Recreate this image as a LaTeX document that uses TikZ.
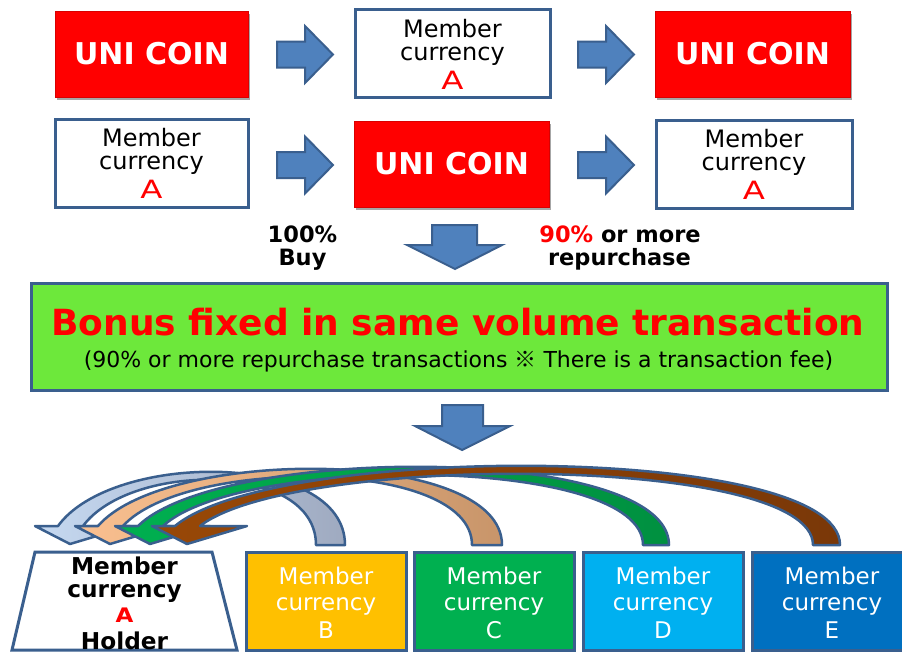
\documentclass[tikz,border=0pt]{standalone}
\usepackage{fontspec}
\setmainfont{DejaVu Sans}
\newfontfamily\cjkfont{Noto Sans CJK JP}
\usetikzlibrary{shadows}
\definecolor{ured}{HTML}{FF0000}
\definecolor{bdr}{HTML}{3A5F8E}
\definecolor{afill}{HTML}{4F81BD}
\definecolor{lgreen}{HTML}{6DE83B}
\definecolor{yB}{HTML}{FFC000}
\definecolor{gC}{HTML}{00B050}
\definecolor{bD}{HTML}{00B0F0}
\definecolor{bE}{HTML}{0070C0}
\definecolor{hB}{HTML}{C6D9F1}
\definecolor{tB}{HTML}{9FAAC0}
\definecolor{hC}{HTML}{FAC090}
\definecolor{tC}{HTML}{C8956A}
\definecolor{hD}{HTML}{00B050}
\definecolor{tD}{HTML}{009040}
\definecolor{hE}{HTML}{984807}
\definecolor{tE}{HTML}{7A3808}
\newcommand\fUni{\fontsize{30}{36}\selectfont\bfseries}
\newcommand\fMem{\fontsize{24}{28}\selectfont}
\newcommand\fMid{\fontsize{22.5}{26}\selectfont\bfseries}
\newcommand\fBonus{\fontsize{36}{40}\selectfont\bfseries}
\newcommand\fSub{\fontsize{22}{26}\selectfont}
\newcommand\fHold{\fontsize{23.2}{27}\selectfont\bfseries}
\newcommand\fBox{\fontsize{23}{27}\selectfont}
\newcommand\wideA{\scalebox{1.35}[1.05]{A}}
% curved arrow: #1 head left, #2 base inner x, #3 base outer x, #4 outer ctrl y, #5 inner ctrl y, #6 head colour, #7 base colour
\newcommand\crvarrow[7]{%
  \path[carr, left color=#6, right color=#7]
    (#3,545) .. controls (#3,#4) and ({#1+23+20+0.12*(#3-#1-23)},#4) .. ({#1+23},526)
    -- (#1,526) -- ({#1+35},544) -- ({#1+95},526) -- ({#1+48},526)
    .. controls ({#1+48+20+0.12*(#2-#1-48)},#5) and (#2,#5) .. (#2,545) -- cycle;}
\tikzset{
  uni/.style={fill=ured, draw=red!85!black, line width=0.6pt, inner sep=0pt, outer sep=0pt,
    text=white, font=\fUni,
    drop shadow={shadow xshift=2pt, shadow yshift=-3pt, opacity=0.35, fill=black}},
  memb/.style={fill=white, draw=bdr, line width=3pt, inner sep=0pt, outer sep=0pt},
  lbl/.style={anchor=base, inner sep=0pt, outer sep=0pt},
  blk/.style={fill=afill, draw=bdr, line width=2pt, line join=miter},
  carr/.style={draw=bdr, line width=2.5pt, line join=round},
  cbox/.style={draw=bdr, line width=3pt, inner sep=0pt, outer sep=0pt,
    minimum width=160pt, minimum height=98pt},
  rarr/.pic={\path[blk] (-28,-13) -- (0,-13) -- (0,-28.5) -- (28,0) -- (0,28.5) -- (0,13) -- (-28,13) -- cycle;}
}
\begin{document}
\begin{tikzpicture}[x=1pt,y=-1pt]
\useasboundingbox (0,0) rectangle (902,653);
\fill[white] (0,0) rectangle (902,653);

% ---- row 1
\node[uni, minimum width=193pt, minimum height=86pt] (u1) at (151.5,54) {UNI COIN};
\pic at (305,54.5) {rarr};
\node[memb, minimum width=195pt, minimum height=88pt] (m1) at (452.5,53.5) {};
\node[lbl, font=\fMem] (m1a) at (452.5,37) {Member};
\node[lbl, font=\fMem] (m1b) at (452.5,60) {currency};
\node[lbl, font=\fMem, text=ured] (m1c) at (452.5,89) {\wideA};
\pic at (606,54.5) {rarr};
\node[uni, minimum width=195pt, minimum height=86pt] (u2) at (752.5,54) {UNI COIN};

% ---- row 2
\node[memb, minimum width=193pt, minimum height=88pt] (m2) at (151.5,163.5) {};
\node[lbl, font=\fMem] (m2a) at (151.5,146) {Member};
\node[lbl, font=\fMem] (m2b) at (151.5,169) {currency};
\node[lbl, font=\fMem, text=ured] (m2c) at (151.5,198) {\wideA};
\pic at (305,165) {rarr};
\node[uni, minimum width=195pt, minimum height=86pt] (u3) at (451.5,164) {UNI COIN};
\pic at (606,165) {rarr};
\node[memb, minimum width=196pt, minimum height=88pt] (m3) at (754,164) {};
\node[lbl, font=\fMem] (m3a) at (754,147) {Member};
\node[lbl, font=\fMem] (m3b) at (754,170) {currency};
\node[lbl, font=\fMem, text=ured] (m3c) at (754,199) {\wideA};

% ---- middle
\node[lbl, font=\fMid] (buy1) at (302.5,242) {100\%};
\node[lbl, font=\fMid] (buy2) at (302.5,265) {Buy};
\node[lbl, font=\fMid] (rep1) at (620,242) {\textcolor{ured}{90\%} or more};
\node[lbl, font=\fMid] (rep2) at (619.5,265) {repurchase};
\path[blk] (432,225) -- (477,225) -- (477,245) -- (502,245) -- (455,269) -- (407,245) -- (432,245) -- cycle;

\node[fill=lgreen, draw=bdr, line width=3pt, minimum width=856pt, minimum height=107pt,
  inner sep=0pt, outer sep=0pt] (bonus) at (459,336.5) {};
\node[lbl, font=\fBonus, text=ured] (bt) at (458,335) {Bonus fixed in same volume transaction};
\node[lbl, font=\fSub] (bs) at (458.5,367) {(90\% or more repurchase transactions {\cjkfont ※} There is a transaction fee)};

\path[blk] (442,405) -- (483,405) -- (483,426) -- (510,426) -- (462,450) -- (415,426) -- (442,426) -- cycle;

% ---- curved arrows
\crvarrow{35}{316}{345}{450.8}{461.5}{hB}{tB}
\crvarrow{75}{472}{502}{446.8}{457.5}{hC}{tC}
\crvarrow{115}{643}{669}{444.1}{454.8}{hD}{tD}
\crvarrow{152}{813}{840}{442.8}{453.5}{hE}{tE}

% ---- bottom boxes
\draw[fill=white, draw=bdr, line width=3pt, line join=miter] (35,552) -- (212,552) -- (237,650) -- (12,650) -- cycle;
\node[lbl, font=\fHold] (ha) at (124.5,574) {Member};
\node[lbl, font=\fHold] (hb) at (124.5,597) {currency};
\node[lbl, font=\fontsize{20}{22}\selectfont\bfseries, text=ured] (hc) at (124.5,622) {\scalebox{1.15}[1]{A}};
\node[lbl, font=\fHold] (hd) at (124.5,649) {Holder};

\node[cbox, fill=yB] (bx) at (326,601) {};
\node[cbox, fill=gC] (cx) at (494,601) {};
\node[cbox, fill=bD] (dx) at (663,601) {};
\node[cbox, fill=bE] (ex) at (832,601) {};
\foreach \c/\n/\L in {326/b/B, 494/c/C, 663/d/D, 832/e/E}{
  \node[lbl, font=\fBox, text=white] (\n1) at (\c,584) {Member};
  \node[lbl, font=\fBox, text=white] (\n2) at (\c,610) {currency};
  \node[lbl, font=\fBox, text=white] (\n3) at (\c,638) {\L};
}
\end{tikzpicture}
\end{document}
